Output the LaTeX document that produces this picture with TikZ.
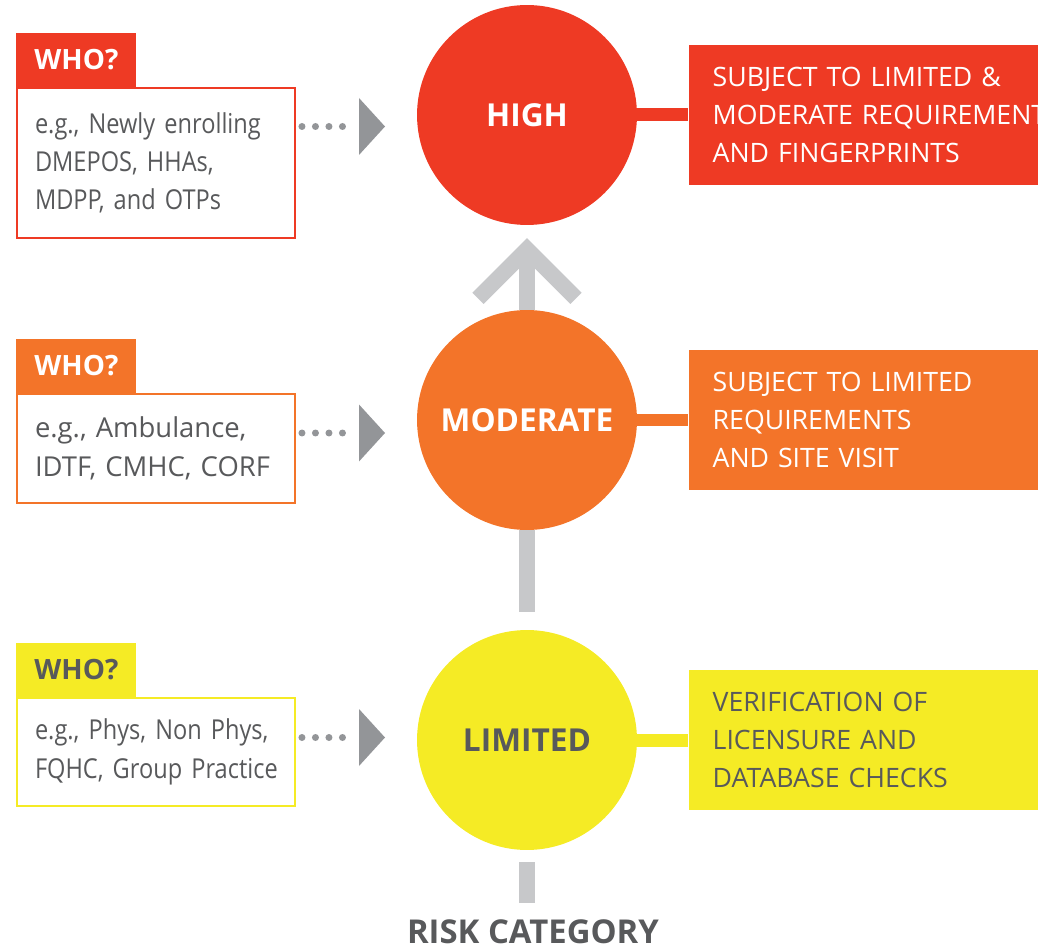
\documentclass[tikz,border=0pt]{standalone}
\usepackage{fontspec}
\setmainfont{Open Sans}
\newfontfamily\narrowfont{Open Sans}[FakeStretch=0.86]
\usepackage{tikz}
\usetikzlibrary{calc,positioning}
\definecolor{riskred}{HTML}{EE3A24}
\definecolor{riskorange}{HTML}{F37429}
\definecolor{riskyellow}{HTML}{F5EB25}
\definecolor{textgray}{HTML}{58595B}
\definecolor{stemgray}{HTML}{C7C8CA}
\definecolor{pointgray}{HTML}{939598}
\tikzstyle{level} =[circle, minimum size=4.4cm, inner sep=0pt,
                    font=\fontsize{18}{22}\selectfont\bfseries, text=white]
\tikzstyle{info}  =[anchor=west, minimum height=2.82cm, text width=8cm,
                    inner xsep=0.48cm, align=left, text=white,
                    font=\fontsize{15.2}{21.6}\selectfont]
\tikzstyle{whobox}=[draw, line width=0.04cm, fill=white, minimum width=5.56cm,
                    text width=4.84cm, inner xsep=0.36cm, align=left,
                    text=textgray, font=\fontsize{15.6}{21.8}\selectfont]
\tikzstyle{who}   =[anchor=south west, minimum width=2.4cm, minimum height=1.08cm,
                    text=white, font=\fontsize{15.9}{18}\selectfont\bfseries]
\tikzstyle{bar}   =[line width=0.26cm]
\tikzstyle{riser} =[line width=0.32cm, stemgray]
\tikzstyle{dots}  =[line width=0.14cm, line cap=round, pointgray,
                    dash pattern=on 0pt off 0.27cm,
                    shorten <=0.12cm, shorten >=0.28cm]
\begin{document}
\begin{tikzpicture}[x=0.02cm, y=-0.02cm]
    \clip[use as bounding box] (0,0) rectangle (1038,949);

    % risk levels
    \node (high) [level, fill=riskred] at (527,115) {HIGH};
    \node (mod)  [level, fill=riskorange] at (527,420) {MODERATE};
    \node (lim)  [level, fill=riskyellow, text=textgray] at (527,740) {LIMITED};

    % what is checked
    \node (highreq) [info, fill=riskred, right=1.02cm of high]
        {SUBJECT TO LIMITED \&\\MODERATE REQUIREMENTS\\AND FINGERPRINTS};
    \node (modreq)  [info, fill=riskorange, right=1.02cm of mod]
        {SUBJECT TO LIMITED\\REQUIREMENTS\\AND SITE VISIT};
    \node (limreq)  [info, fill=riskyellow, text=textgray, right=1.02cm of lim]
        {VERIFICATION OF\\LICENSURE AND\\DATABASE CHECKS};

    % who
    \node (highex) [whobox, draw=riskred, minimum height=3cm] at (156,163)
        {\narrowfont e.g., Newly enrolling\\DMEPOS, HHAs,\\MDPP, and OTPs};
    \node (modex)  [whobox, draw=riskorange, minimum height=2.18cm] at (156,448.5)
        {e.g., Ambulance,\\IDTF, CMHC, CORF};
    \node (limex)  [whobox, draw=riskyellow, minimum height=2.16cm] at (156,752)
        {\narrowfont \mbox{e.g., Phys, Non Phys,}\\\mbox{FQHC, Group Practice}};
    \node (highwho) [who, fill=riskred] at (highex.north west) {WHO?};
    \node (modwho)  [who, fill=riskorange] at (modex.north west) {WHO?};
    \node (limwho)  [who, fill=riskyellow, text=textgray] at (limex.north west) {WHO?};

    \coordinate (highpt) at (359,126.5);
    \coordinate (modpt)  at (359,433);
    \coordinate (limpt)  at (359,737.5);
    \coordinate (tip) at ($(high.south)+(0,24)$);
    \node (risk) [inner sep=1pt, text=textgray, font=\fontsize{18.7}{22}\selectfont\bfseries]
        at (533,932) {RISK CATEGORY};

    \draw[bar, riskred] (high) -- (highreq);
    \draw[bar, riskorange] (mod) -- (modreq);
    \draw[bar, riskyellow] (lim) -- (limreq);

    \foreach \p/\b in {highpt/highex, modpt/modex, limpt/limex} {
        \draw[dots] (\p -| \b.east) -- (\p);
        \fill[pointgray] (\p) -- ++(0,-28.5) -- ++(26,28.5) -- ++(-26,28.5) -- cycle;
    }

    \draw[riser] (mod.north) -- (tip);
    \draw[riser, line join=miter] ($(tip)+(-49,49)$) -- (tip) -- ($(tip)+(49,49)$);
    \draw[riser, shorten <=0.36cm] (lim.north) -- (mod.south);
    \draw[riser, shorten <=0.24cm, shorten >=0.3cm] (lim.south) -- (lim.south |- risk.north);
\end{tikzpicture}
\end{document}
